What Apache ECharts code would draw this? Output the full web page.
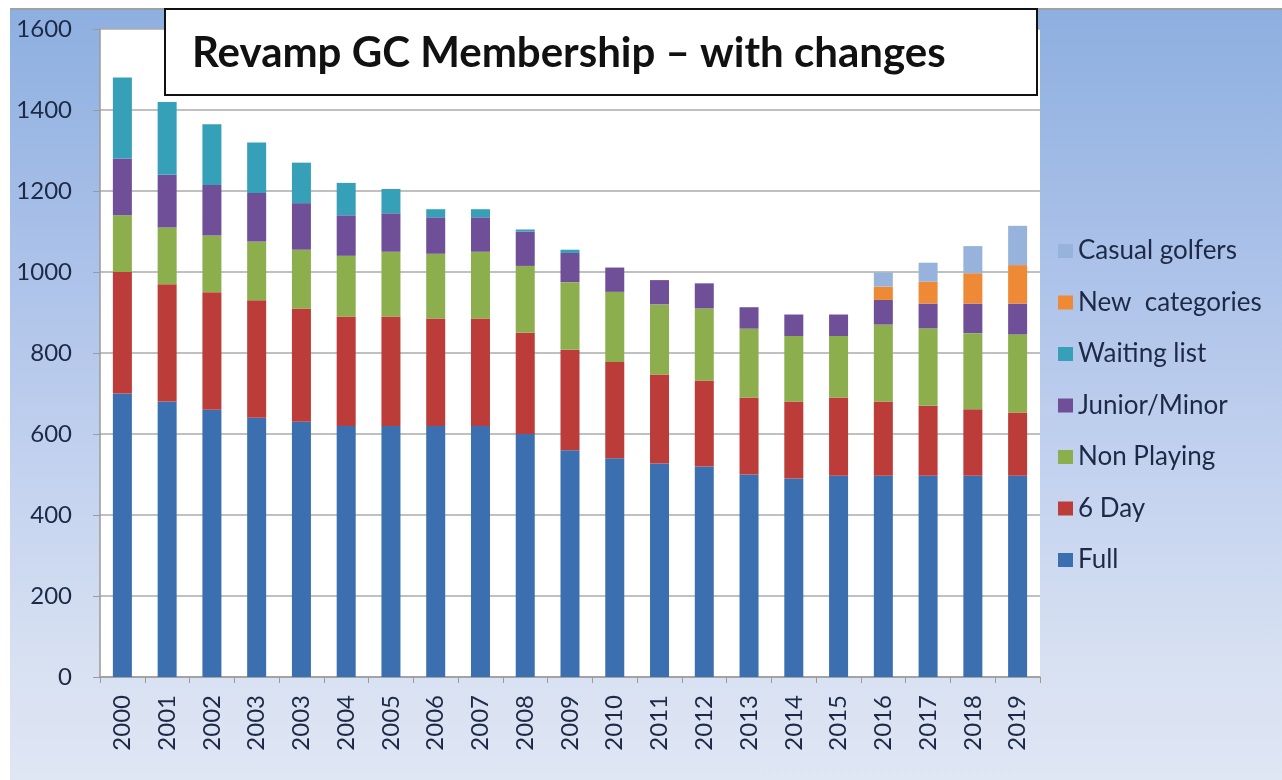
<!DOCTYPE html>
<html>
<head>
<meta charset="utf-8">
<script src="https://cdn.jsdelivr.net/npm/echarts@6/dist/echarts.min.js"></script>
<style>
html,body{margin:0;padding:0;background:#fff;}
#chart{width:1282px;height:780px;
background:linear-gradient(to bottom,#8dafe0 0%,#a9c0e8 30%,#c3d2ef 60%,#d8e1f2 85%,#dfe6f4 100%) 10px 9px/1272px 771px no-repeat #fff;}
</style>
</head>
<body>
<div id="chart"></div>
<script>
const categories = ['2000','2001','2002','2003','2003','2004','2005','2006','2007','2008','2009','2010','2011','2012','2013','2014','2015','2016','2017','2018','2019'];
const full       = [700,680,660,640,630,620,620,620,620,600,560,540,527,520,500,490,497,497,497,497,497];
const sixDay     = [300,290,290,290,280,270,270,265,265,250,248,238,220,212,190,190,193,183,173,164,156];
const nonPlaying = [140,140,140,145,145,150,160,160,165,165,167,173,173,178,170,162,152,190,191,188,193];
const junior     = [140,130,125,120,115,100,95,90,85,85,72,60,60,62,53,53,53,61,61,73,76];
const waiting    = [200,180,150,125,100,80,60,20,20,5,8,0,0,0,0,0,0,0,0,0,0];
const newCat     = [0,0,0,0,0,0,0,0,0,0,0,0,0,0,0,0,0,33,54,75,95];
const casual     = [0,0,0,0,0,0,0,0,0,0,0,0,0,0,0,0,0,35,47,67,97];
const yTicks     = {min:0, max:1600, interval:200};
const titleText  = 'Revamp GC Membership \u2013 with changes';

const seriesDefs = [
  {name:'Full', data:full, color:'#3b6fb0'},
  {name:'6 Day', data:sixDay, color:'#bb3c39'},
  {name:'Non Playing', data:nonPlaying, color:'#8cae4d'},
  {name:'Junior/Minor', data:junior, color:'#6f4f98'},
  {name:'Waiting list', data:waiting, color:'#37a0b9'},
  {name:'New  categories', data:newCat, color:'#ee8a36'},
  {name:'Casual golfers', data:casual, color:'#98b3db'}
];

const chart = echarts.init(document.getElementById('chart'), null, {renderer:'canvas'});
const FONT = 'Lato';
const TXT = '#1d2a47';

chart.setOption({
  animation:false,
  textStyle:{fontFamily:FONT},
  grid:{left:100, right:242, top:29, bottom:103, show:true, backgroundColor:'#ffffff', borderWidth:0},
  legend:{
    orient:'vertical', left:1053, top:233,
    data:seriesDefs.map(s=>s.name).reverse(),
    icon:'rect', itemWidth:15, itemHeight:14, itemGap:25.5,
    textStyle:{fontFamily:FONT, fontSize:26, color:TXT, lineHeight:26}
  },
  xAxis:{
    type:'category', data:categories,
    axisLine:{lineStyle:{color:'#9a9a9a', width:1.5}},
    axisTick:{show:true, length:6, lineStyle:{color:'#9a9a9a'}},
    axisLabel:{rotate:90, margin:18, fontFamily:FONT, fontSize:24, color:TXT, interval:0}
  },
  yAxis:{
    type:'value', min:yTicks.min, max:yTicks.max, interval:yTicks.interval,
    axisLine:{show:true, lineStyle:{color:'#9a9a9a', width:1.5}},
    axisTick:{show:true, length:7, lineStyle:{color:'#9a9a9a'}},
    splitLine:{lineStyle:{color:'#ababab', width:1.5}},
    axisLabel:{margin:28, fontFamily:FONT, fontSize:24, color:TXT, formatter:v=>String(v)}
  },
  series:seriesDefs.map(s=>({
    name:s.name, type:'bar', stack:'total', data:s.data, barWidth:19,
    itemStyle:{color:s.color}
  })),
  graphic:[
    {type:'line', shape:{x1:10,y1:9,x2:1282,y2:9}, style:{stroke:'#a0a0a0', lineWidth:2}, z:10},
    {type:'rect', shape:{x:165,y:9,width:872,height:86}, style:{fill:'#ffffff', stroke:'#111111', lineWidth:2}, z:20},
    {type:'text', x:192, y:53, style:{text:titleText, fontFamily:FONT, fontWeight:'bold', fontSize:42, fill:'#111111', verticalAlign:'middle'}, z:21}
  ]
});
</script>
</body>
</html>
